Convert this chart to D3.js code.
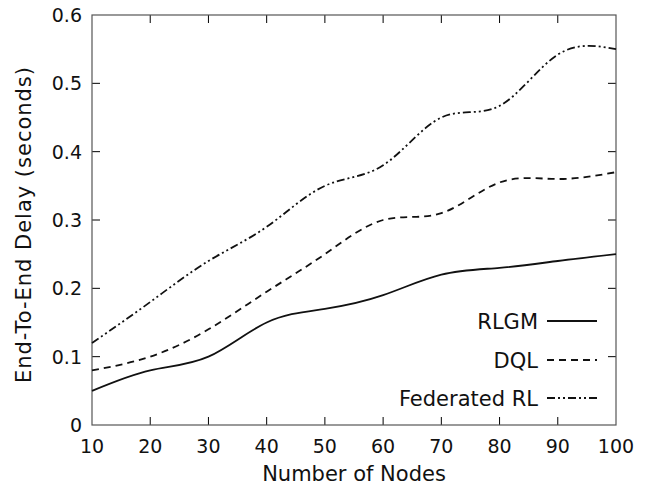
<!DOCTYPE html>
<html><head><meta charset="utf-8">
<script src="https://cdn.jsdelivr.net/npm/d3@7"></script>
<style>body{margin:0;background:#fff}</style>
</head><body>
<script>
const nodes = [10,20,30,40,50,60,70,80,90,100];
const rlgm = [0.05,0.08,0.10,0.15,0.17,0.19,0.22,0.23,0.24,0.25];
const dql = [0.08,0.10,0.14,0.195,0.25,0.30,0.31,0.355,0.36,0.37];
const fedrl = [0.12,0.18,0.24,0.29,0.35,0.38,0.45,0.467,0.542,0.55];
const seriesNames = ["RLGM","DQL","Federated RL"];
const xTicks = [10,20,30,40,50,60,70,80,90,100];
const yTicks = [0,0.1,0.2,0.3,0.4,0.5,0.6];

const W=652,H=487;
const L=92,R=616,T=15,B=425;
const svg=d3.select("body").append("svg").attr("width",W).attr("height",H);
const x=d3.scaleLinear().domain([10,100]).range([L,R]);
const y=d3.scaleLinear().domain([0,0.6]).range([B,T]);
const font="DejaVu Sans, sans-serif";

const tl=8;
const g=svg.append("g");
xTicks.forEach(v=>{
  if(v>10&&v<100){
    g.append("line").attr("x1",x(v)).attr("x2",x(v)).attr("y1",B).attr("y2",B-tl).attr("stroke","#000");
    g.append("line").attr("x1",x(v)).attr("x2",x(v)).attr("y1",T).attr("y2",T+tl).attr("stroke","#000");
  }
  g.append("text").attr("x",x(v)).attr("y",B+28).attr("text-anchor","middle")
   .attr("font-family",font).attr("font-size",19).attr("fill","#111").text(v);
});
yTicks.forEach(v=>{
  if(v>0&&v<0.6){
    g.append("line").attr("x1",L).attr("x2",L+tl).attr("y1",y(v)).attr("y2",y(v)).attr("stroke","#000");
    g.append("line").attr("x1",R).attr("x2",R-tl).attr("y1",y(v)).attr("y2",y(v)).attr("stroke","#000");
  }
  g.append("text").attr("x",L-10).attr("y",y(v)+7).attr("text-anchor","end")
   .attr("font-family",font).attr("font-size",19).attr("fill","#111").text(v===0?"0":v.toFixed(1));
});
svg.append("rect").attr("x",L).attr("y",T).attr("width",R-L).attr("height",B-T)
  .attr("fill","none").attr("stroke","#555").attr("stroke-width",1.2);

svg.append("text").attr("x",354).attr("y",481).attr("text-anchor","middle")
  .attr("font-family",font).attr("font-size",21).attr("fill","#111").text("Number of Nodes");
svg.append("text").attr("transform",`translate(31,225) rotate(-90)`).attr("text-anchor","middle")
  .attr("textLength",316).attr("lengthAdjust","spacing")
  .attr("font-family",font).attr("font-size",21).attr("fill","#111").text("End-To-End Delay (seconds)");

const dashes=[null,"7,5","8,3,2,3,2,3"];
const data=[rlgm,dql,fedrl];
const line=d3.line().x((d,i)=>x(nodes[i])).y(d=>y(d)).curve(d3.curveNatural);
data.forEach((s,k)=>{
  svg.append("path").attr("d",line(s)).attr("fill","none").attr("stroke","#111")
    .attr("stroke-width",1.8).attr("stroke-dasharray",dashes[k]);
});

const ly=[321,360,398];
seriesNames.forEach((n,k)=>{
  svg.append("text").attr("x",538).attr("y",ly[k]+8).attr("text-anchor","end")
    .attr("font-family",font).attr("font-size",21).attr("fill","#111").text(n);
  svg.append("line").attr("x1",547).attr("x2",597).attr("y1",ly[k]).attr("y2",ly[k])
    .attr("stroke","#111").attr("stroke-width",1.8).attr("stroke-dasharray",dashes[k]);
});
</script>
</body></html>
